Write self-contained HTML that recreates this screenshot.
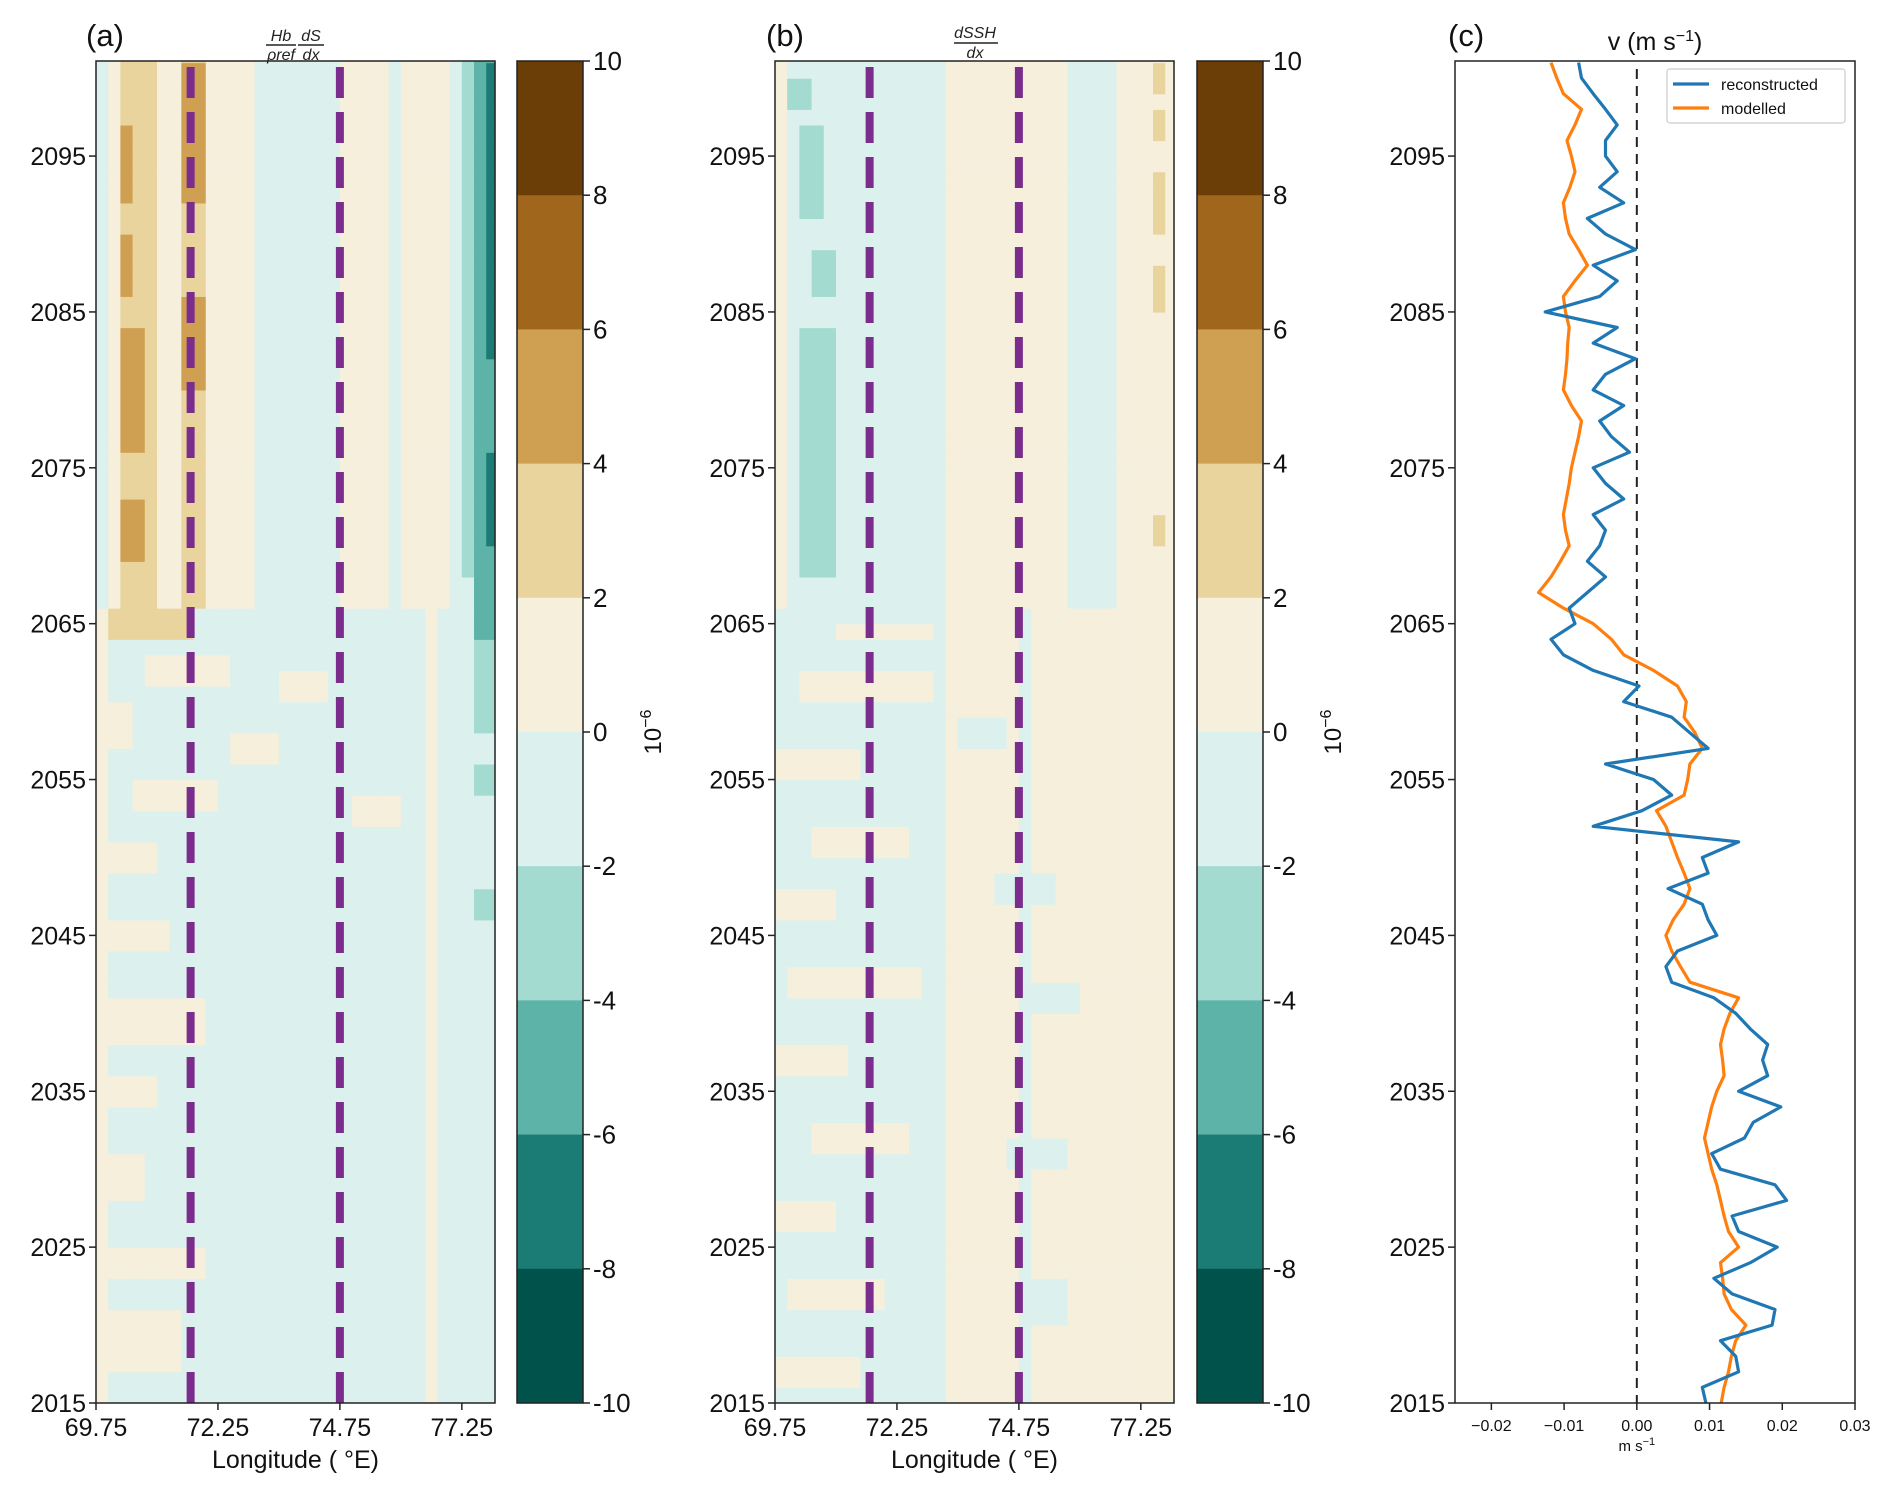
<!DOCTYPE html>
<html><head><meta charset="utf-8">
<style>
html,body{margin:0;padding:0;background:#fff;}
svg{display:block;font-family:"Liberation Sans","DejaVu Sans",sans-serif;}
</style></head>
<body>
<svg id="fig" width="1892" height="1494" viewBox="0 0 1892 1494" xmlns="http://www.w3.org/2000/svg">
<g id="panelA"></g>
<g id="panelB"></g>
<g id="panelC"></g>
</svg>
<script>
// ---------- data ----------
const lonCols = [69.75,70.0,70.25,70.5,70.75,71.0,71.25,71.5,71.75,72.0,72.25,72.5,72.75,73.0,73.25,73.5,73.75,74.0,74.25,74.5,74.75,75.0,75.25,75.5,75.75,76.0,76.25,76.5,76.75,77.0,77.25,77.5,77.75];
const lonTicks = [69.75,72.25,74.75,77.25];
const yearTicks = [2015,2025,2035,2045,2055,2065,2075,2085,2095];
const cbarTicks = [10,8,6,4,2,0,-2,-4,-6,-8,-10];
const dashLons = [71.69,74.75];
const splitYear = 2066;
const baseUpperA = [-1,0,1,1,1,0,0,1,1,0,0,0,0,-1,-1,-1,-1,-1,-1,-1,0,0,0,0,-1,0,0,0,0,-1,-1,-2,-3];
const baseLowerA = [0,-1,-1,-1,-1,-1,-1,-1,-1,-1,-1,-1,-1,-1,-1,-1,-1,-1,-1,-1,-1,-1,-1,-1,-1,-1,-1,0,-1,-1,-1,-1,-1];
const patchesA = [
 [70.25,70.75,2069,2073,2],[70.25,70.75,2076,2084,2],[70.25,70.6,2086,2090,2],[70.25,70.6,2092,2097,2],
 [71.5,71.9,2080,2086,2],[71.5,71.9,2092,2101,2],[70.4,70.6,2094,2096,3],[70.4,70.6,2088,2090,3],
 [77.25,77.5,2068,2102,-2],[77.5,77.93,2064,2102,-3],[77.76,77.93,2070,2076,-4],[77.76,77.93,2082,2101,-4],
 [77.5,77.93,2058,2064,-2],
 [69.75,71.5,2017,2021,0],[70.0,72.0,2023,2025,0],[69.75,70.75,2028,2031,0],[69.9,71.0,2034,2036,0],
 [69.75,72.0,2038,2041,0],[70.0,71.25,2044,2046,0],[69.75,71.0,2049,2051,0],[70.5,72.3,2053,2055,0],
 [69.75,70.6,2057,2060,0],[70.8,72.4,2061,2063,0],[72.5,73.5,2056,2058,0],[73.5,74.5,2060,2062,0],
 [75.0,76.0,2052,2054,0],[70.0,71.75,2064,2066,1],[77.5,77.93,2054,2056,-2],[77.5,77.93,2046,2048,-2]
];
const baseUpperB = [0,-1,-1,-1,-1,-1,-1,-1,-1,-1,-1,-1,-1,-1,0,0,0,0,0,0,0,0,0,0,-1,-1,-1,-1,0,0,0,0,0];
const baseLowerB = [-1,-1,-1,-1,-1,-1,-1,-1,-1,-1,-1,-1,-1,-1,0,0,0,0,0,0,-1,0,0,0,0,0,0,0,0,0,0,0,0];
const patchesB = [
 [70.25,70.9,2068,2084,-2],[70.4,70.9,2086,2089,-2],[70.3,70.75,2091,2097,-2],[70.1,70.5,2098,2100,-2],
 [77.5,77.85,2070,2072,1],[77.5,77.85,2085,2088,1],[77.5,77.8,2090,2094,1],[77.6,77.85,2096,2098,1],[77.6,77.85,2099,2101,1],
 [69.75,71.5,2016,2018,0],[70.0,72.0,2021,2023,0],[69.75,71.0,2026,2028,0],[70.5,72.5,2031,2033,0],
 [69.75,71.25,2036,2038,0],[70.0,72.75,2041,2043,0],[69.75,71.0,2046,2048,0],[70.5,72.5,2050,2052,0],
 [69.75,71.5,2055,2057,0],[70.25,73.0,2060,2062,0],[71.0,73.0,2064,2065,0],
 [75.0,75.75,2020,2023,-1],[74.5,75.75,2030,2032,-1],[75.0,76.0,2040,2042,-1],[74.25,75.5,2047,2049,-1],[73.5,74.5,2057,2059,-1]
];
const years = [2015,2016,2017,2018,2019,2020,2021,2022,2023,2024,2025,2026,2027,2028,2029,2030,2031,2032,2033,2034,2035,2036,2037,2038,2039,2040,2041,2042,2043,2044,2045,2046,2047,2048,2049,2050,2051,2052,2053,2054,2055,2056,2057,2058,2059,2060,2061,2062,2063,2064,2065,2066,2067,2068,2069,2070,2071,2072,2073,2074,2075,2076,2077,2078,2079,2080,2081,2082,2083,2084,2085,2086,2087,2088,2089,2090,2091,2092,2093,2094,2095,2096,2097,2098,2099,2100,2101];
const reconstructed = [0.0095,0.009,0.014,0.0136,0.0115,0.0186,0.019,0.0131,0.0106,0.0156,0.0193,0.014,0.0131,0.0206,0.019,0.0115,0.0103,0.0148,0.016,0.0198,0.014,0.018,0.0173,0.018,0.0156,0.0136,0.0106,0.0048,0.004,0.0056,0.011,0.0098,0.009,0.0043,0.0098,0.009,0.014,-0.006,0.0007,0.0048,0.0023,-0.0043,0.0098,0.0073,0.0048,-0.0018,0.0003,-0.006,-0.0101,-0.0118,-0.0085,-0.0093,-0.0068,-0.0043,-0.0068,-0.0051,-0.0043,-0.006,-0.0018,-0.0043,-0.006,-0.001,-0.0035,-0.0051,-0.0018,-0.006,-0.0043,-0.0002,-0.006,-0.0027,-0.0126,-0.0051,-0.0027,-0.006,-0.0002,-0.0043,-0.0068,-0.0018,-0.0051,-0.0027,-0.0043,-0.0043,-0.0027,-0.0043,-0.006,-0.0076,-0.008];
const modelled = [0.0116,0.012,0.0126,0.013,0.0136,0.015,0.013,0.012,0.0118,0.0115,0.014,0.0126,0.012,0.0115,0.011,0.0103,0.0098,0.0093,0.0098,0.0103,0.011,0.012,0.0118,0.0115,0.012,0.0128,0.014,0.0073,0.006,0.0048,0.004,0.005,0.0065,0.0073,0.0065,0.0056,0.0048,0.004,0.0027,0.0065,0.007,0.0073,0.009,0.008,0.0065,0.0068,0.0056,0.0023,-0.0018,-0.0035,-0.006,-0.0101,-0.0135,-0.0118,-0.0105,-0.0093,-0.0098,-0.0101,-0.0097,-0.0093,-0.009,-0.0085,-0.008,-0.0076,-0.009,-0.0101,-0.0098,-0.0096,-0.0095,-0.0093,-0.0098,-0.0101,-0.0085,-0.0068,-0.008,-0.0093,-0.0098,-0.0101,-0.0092,-0.0085,-0.009,-0.0096,-0.0085,-0.0076,-0.0101,-0.011,-0.0118];
const vTicks = [-0.02,-0.01,0.00,0.01,0.02,0.03];
const vTickLabels = ["\u22120.02","\u22120.01","0.00","0.01","0.02","0.03"];

// ---------- helpers ----------
const NS="http://www.w3.org/2000/svg";
function mk(parent,tag,attrs,text){const e=document.createElementNS(NS,tag);for(const k in attrs)e.setAttribute(k,attrs[k]);if(text!==undefined)e.textContent=text;parent.appendChild(e);return e;}
const levelColors={"-5":"#01524a","-4":"#1a7c74","-3":"#5db3a7","-2":"#a3dbd1","-1":"#dcf0ee","0":"#f5efdc","1":"#e9d49e","2":"#cfa052","3":"#a0661b","4":"#6b3d07"};
const Y0=61,Y1=1403,YR0=2015,YR1=2101.1;
const yScale=y=>Y1-(y-YR0)/(YR1-YR0)*(Y1-Y0);
const LON0=69.75,LON1=77.93;

function drawField(g,px0,px1,baseU,baseL,patches,cbX){
  const xs=l=>px0+(l-LON0)/(LON1-LON0)*(px1-px0);
  const cells=mk(g,"g",{});
  
  
  for(let r=YR0;r<YR1;r++){
    for(let c=0;c<lonCols.length;c++){
      const lon=lonCols[c];
      let lv=(r>=splitYear?baseU[c]:baseL[c]);
      for(const p of patches){ if(lon+0.125>=p[0]&&lon+0.125<=p[1]&&r+0.5>=p[2]&&r+0.5<=p[3]) lv=p[4]; }
      const x0=xs(lon),x1=Math.min(px1,xs(lon+0.25));
      const y0=yScale(Math.min(r+1,YR1)),y1=yScale(r);
      const rc=mk(cells,"rect",{x:x0,y:y0,width:x1-x0+0.6,height:y1-y0+0.6,fill:levelColors[lv]});
      
      
    }
  }
  for(const d of dashLons){
    const l=mk(g,"line",{x1:xs(d),x2:xs(d),y1:67,y2:Y1,stroke:"#7b2d8e","stroke-width":8,"stroke-dasharray":"31 14"});
    
    
  }
  const fr=mk(g,"rect",{x:px0,y:Y0,width:px1-px0,height:Y1-Y0,fill:"none",stroke:"#222","stroke-width":1.5});
  
  
  for(const t of yearTicks){
    const y=yScale(t);
    mk(g,"line",{x1:px0-7,x2:px0,y1:y,y2:y,stroke:"#222","stroke-width":1.5});
    const tx=mk(g,"text",{x:px0-10,y:y+9,"font-size":25,"text-anchor":"end",fill:"#111"},String(t));
    
    
  }
  for(const t of lonTicks){
    const x=xs(t);
    mk(g,"line",{x1:x,x2:x,y1:Y1,y2:Y1+7,stroke:"#222","stroke-width":1.5});
    const tx=mk(g,"text",{x:x,y:Y1+33,"font-size":25,"text-anchor":"middle",fill:"#111"},t.toFixed(2));
    
    
  }
  const xl=mk(g,"text",{x:(px0+px1)/2,y:1468,"font-size":25,"text-anchor":"middle",fill:"#111"},"Longitude ( \u00B0E)");
  
  
  const cw=66, bh=(Y1-Y0)/10;
  for(let i=0;i<10;i++){
    const lv=4-i;
    const b=mk(g,"rect",{x:cbX,y:Y0+i*bh,width:cw,height:bh+0.5,fill:levelColors[lv]});
    
    
  }
  mk(g,"rect",{x:cbX,y:Y0,width:cw,height:Y1-Y0,fill:"none",stroke:"#222","stroke-width":1.5});
  cbarTicks.forEach((t,i)=>{
    const y=Y0+i*bh;
    mk(g,"line",{x1:cbX+cw,x2:cbX+cw+7,y1:y,y2:y,stroke:"#222","stroke-width":1.5});
    const tx=mk(g,"text",{x:cbX+cw+10,y:y+9,"font-size":26,fill:"#111"},String(t));
    
    
  });
  const cl=mk(g,"text",{transform:`translate(${cbX+cw+78},${(Y0+Y1)/2}) rotate(-90)`,"font-size":24,"text-anchor":"middle",fill:"#111"});
  
  
  mk(cl,"tspan",{},"10");
  mk(cl,"tspan",{dy:-10,"font-size":16},"\u22126");
}

// Panel A
const gA=document.getElementById("panelA");
drawField(gA,96,495,baseUpperA,baseLowerA,patchesA,517);
let t=mk(gA,"text",{x:86,y:46,"font-size":31,fill:"#111"},"(a)");

const fa=mk(gA,"g",{"font-size":16,"font-style":"italic",fill:"#222"});

mk(fa,"text",{x:281,y:41,"text-anchor":"middle"},"Hb");
mk(fa,"line",{x1:266,x2:296,y1:45,y2:45,stroke:"#222","stroke-width":1.4});
mk(fa,"text",{x:281,y:60,"text-anchor":"middle"},"\u03C1ref");
mk(fa,"text",{x:311,y:41,"text-anchor":"middle"},"dS");
mk(fa,"line",{x1:298,x2:324,y1:45,y2:45,stroke:"#222","stroke-width":1.4});
mk(fa,"text",{x:311,y:60,"text-anchor":"middle"},"dx");

// Panel B
const gB=document.getElementById("panelB");
drawField(gB,775,1174,baseUpperB,baseLowerB,patchesB,1197);
t=mk(gB,"text",{x:766,y:46,"font-size":31,fill:"#111"},"(b)");

const fb=mk(gB,"g",{"font-size":16,"font-style":"italic",fill:"#222"});

mk(fb,"text",{x:975,y:38,"text-anchor":"middle"},"dSSH");
mk(fb,"line",{x1:954,x2:998,y1:43,y2:43,stroke:"#222","stroke-width":1.4});
mk(fb,"text",{x:975,y:58,"text-anchor":"middle"},"dx");

// Panel C
const gC=document.getElementById("panelC");
const CX0=1455,CX1=1855,V0=-0.025,V1=0.03;
const vx=v=>CX0+(v-V0)/(V1-V0)*(CX1-CX0);
const z=mk(gC,"line",{x1:vx(0),x2:vx(0),y1:Y0+8,y2:Y1,stroke:"#222","stroke-width":2,"stroke-dasharray":"10 7"});

function series(vals,color,name){
  const d=vals.map((v,i)=>(i?"L":"M")+vx(v).toFixed(1)+","+yScale(years[i]).toFixed(1)).join(" ");
  const p=mk(gC,"path",{d:d,fill:"none",stroke:color,"stroke-width":3.2,"stroke-linejoin":"round"});
  
  
}
series(modelled,"#ff7f0e","modelled-line");
series(reconstructed,"#1f77b4","reconstructed-line");
t=mk(gC,"rect",{x:CX0,y:Y0,width:CX1-CX0,height:Y1-Y0,fill:"none",stroke:"#222","stroke-width":1.5});

for(const y of yearTicks){
  const yy=yScale(y);
  mk(gC,"line",{x1:CX0-7,x2:CX0,y1:yy,y2:yy,stroke:"#222","stroke-width":1.5});
  const tx=mk(gC,"text",{x:CX0-10,y:yy+9,"font-size":25,"text-anchor":"end",fill:"#111"},String(y));
  
}
vTicks.forEach((v,i)=>{
  const x=vx(v);
  mk(gC,"line",{x1:x,x2:x,y1:Y1,y2:Y1+7,stroke:"#222","stroke-width":1.5});
  const tx=mk(gC,"text",{x:x,y:Y1+28,"font-size":16,"text-anchor":"middle",fill:"#111"},vTickLabels[i]);
  
});
t=mk(gC,"text",{x:vx(0),y:1451,"font-size":15,"text-anchor":"middle",fill:"#111"});

mk(t,"tspan",{},"m s");mk(t,"tspan",{dy:-6,"font-size":11},"\u22121");
t=mk(gC,"text",{x:1448,y:46,"font-size":31,fill:"#111"},"(c)");

t=mk(gC,"text",{x:1655,y:50,"font-size":25,"text-anchor":"middle",fill:"#111"});

mk(t,"tspan",{},"v (m s");mk(t,"tspan",{dy:-9,"font-size":16},"\u22121");mk(t,"tspan",{dy:9},")");
const lg=mk(gC,"g",{});

mk(lg,"rect",{x:1667,y:69,width:178,height:54,rx:3,fill:"#fff",stroke:"#ccc","stroke-width":1.2});
mk(lg,"line",{x1:1673,x2:1709,y1:84,y2:84,stroke:"#1f77b4","stroke-width":3.2});
t=mk(lg,"text",{x:1721,y:90,"font-size":16,fill:"#111"},"reconstructed");

mk(lg,"line",{x1:1673,x2:1709,y1:108,y2:108,stroke:"#ff7f0e","stroke-width":3.2});
t=mk(lg,"text",{x:1721,y:114,"font-size":16,fill:"#111"},"modelled");

</script>
</body></html>
